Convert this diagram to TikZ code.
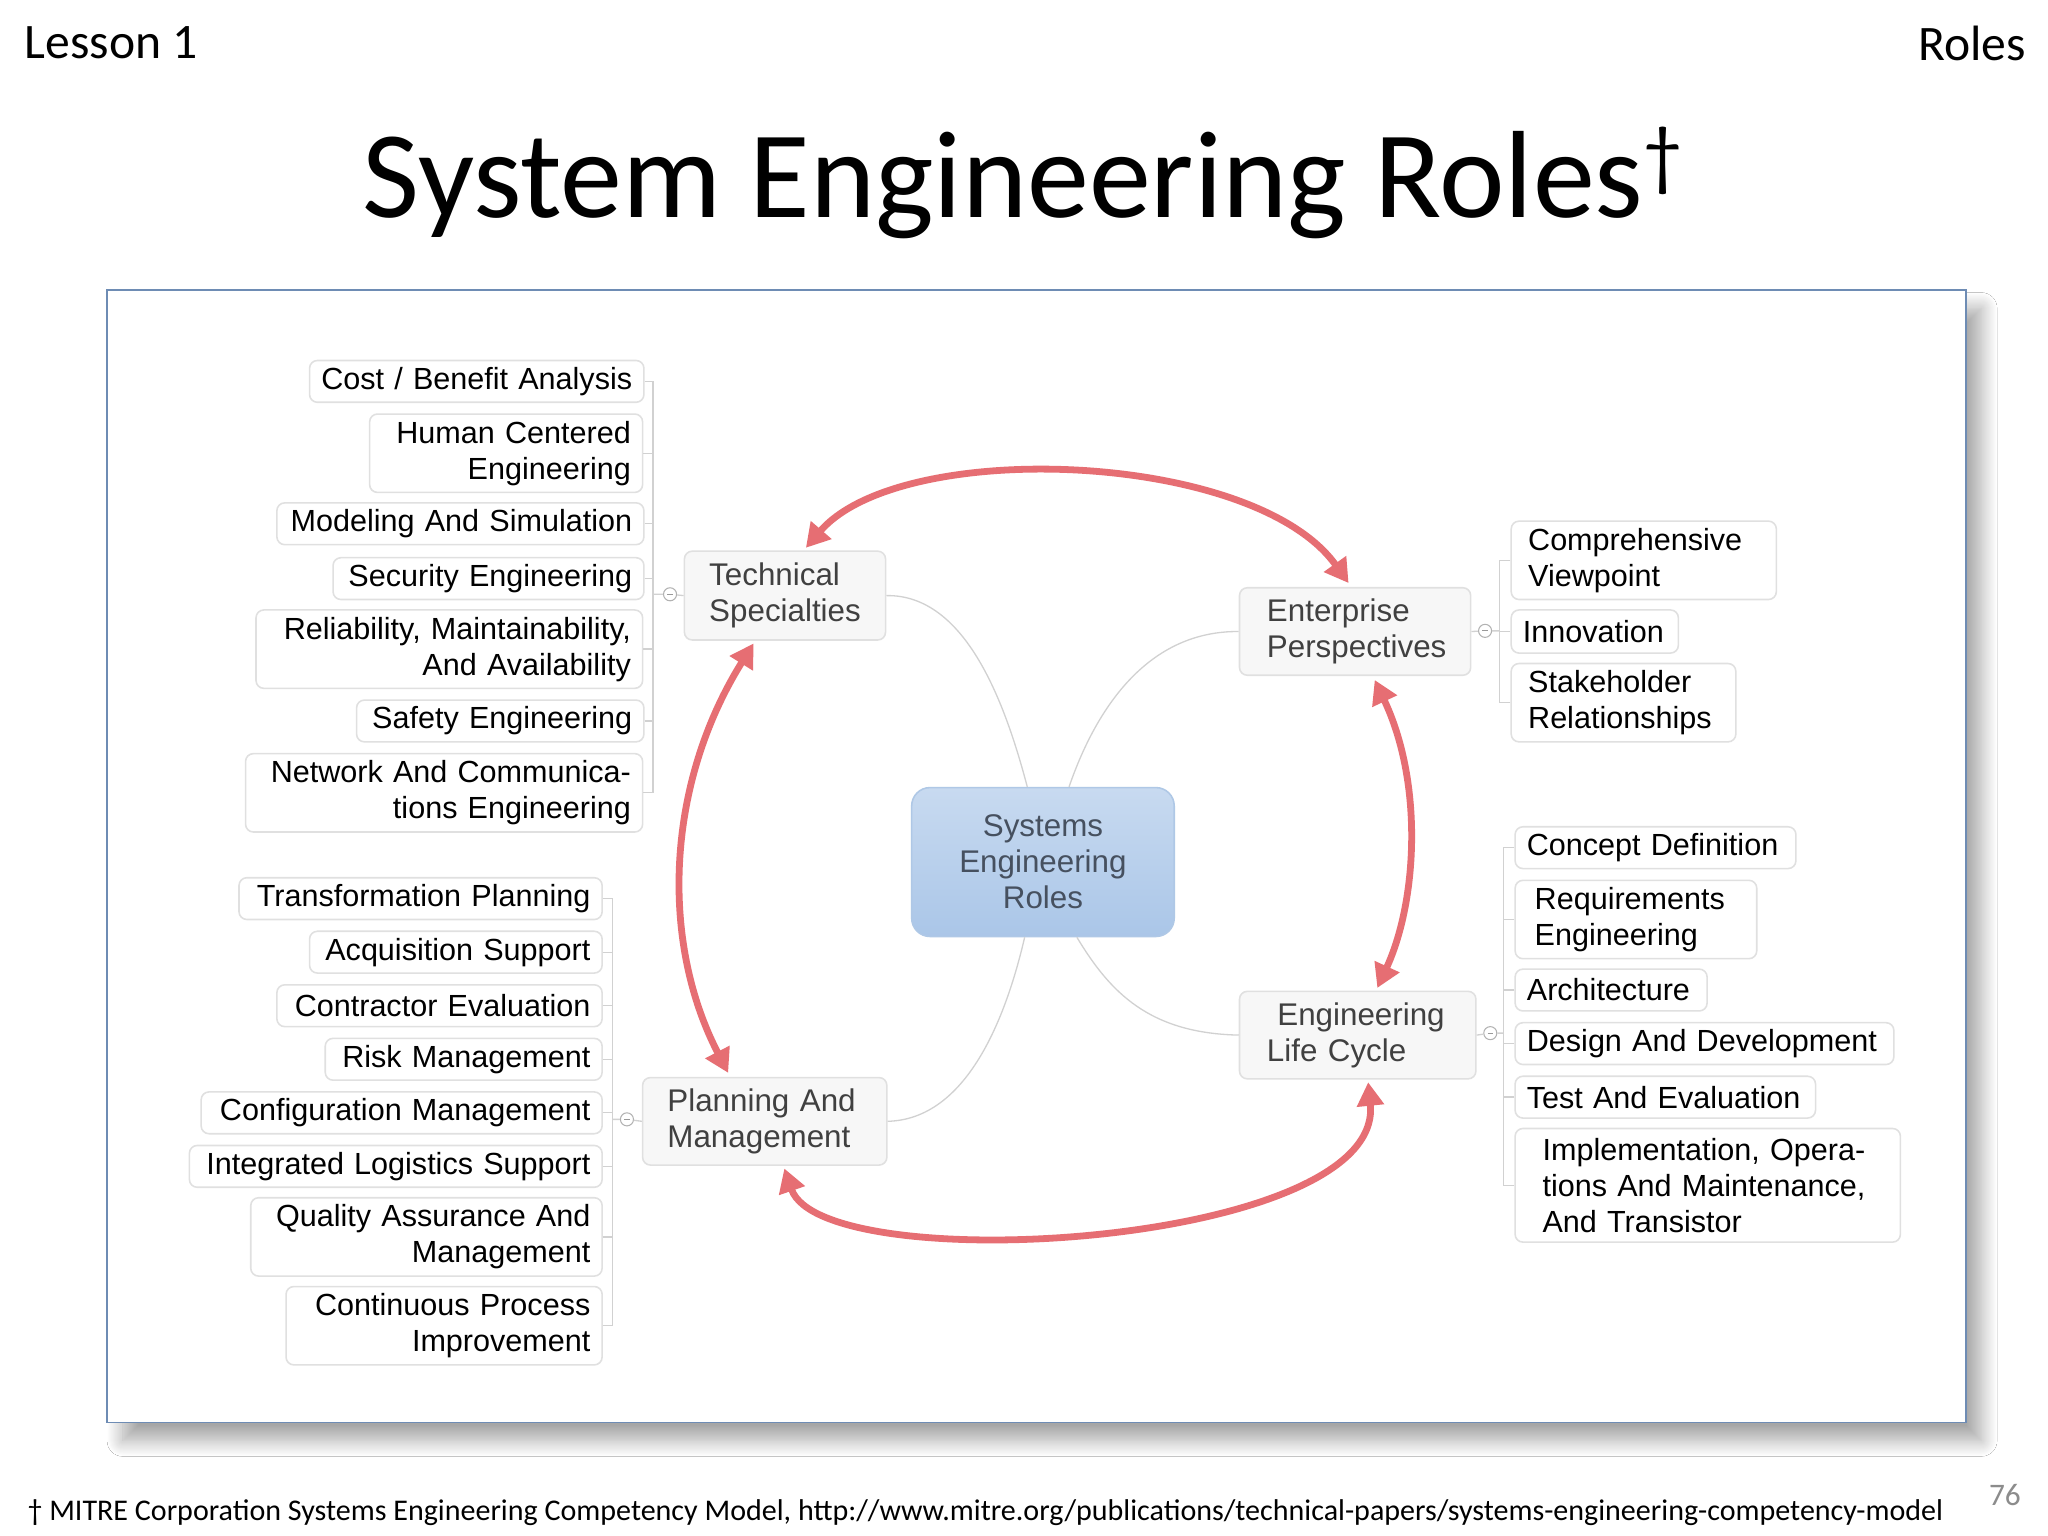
\documentclass[tikz,border=0pt]{standalone}
\usepackage{fontspec}
\setmainfont{Liberation Sans}
\newfontfamily\calfam{Carlito}
\usetikzlibrary{arrows.meta,shadows.blur,calc}
\tikzset{
 box/.style={draw=black!12,line width=0.6pt,rounded corners=3pt,fill=white,inner sep=0pt,font=\fontsize{11.7}{13.8}\selectfont,text=black},
 mid/.style={fill=black!3,text=black!75,font=\fontsize{12}{13.8}\selectfont},
 redarr/.style={draw={rgb,255:red,230;green,110;blue,115},line width=2.6pt,{Triangle[length=9pt,width=10pt]}-{Triangle[length=9pt,width=10pt]}},
 thin/.style={draw=black!18,line width=0.5pt},
 dotc/.style={circle,draw=black!30,fill=white,inner sep=0pt,minimum size=5pt,line width=0.4pt},
}
\newcommand\bx[7][]{%
 \pgfmathsetmacro\bw{(#5-#3)*0.5}\pgfmathsetmacro\bh{(#6-#4)*0.5}\pgfmathsetmacro\tw{\bw-9}%
 \node[box,#1,minimum width=\bw pt,minimum height=\bh pt,text width=\tw pt] (#2) at ({(#3+#5)/2},{(#4+#6)/2}) {#7};}
\begin{document}
\begin{tikzpicture}[x=0.5pt,y=-0.5pt]
\useasboundingbox (0,0) rectangle (1568,1176);
\fill[white] (0,0) rectangle (1568,1176);
\node[anchor=west,font=\calfam\fontsize{19}{21}\selectfont] (l1) at (12,33) {Lesson 1};
\node[anchor=east,font=\calfam\fontsize{19}{21}\selectfont] (ro) at (1558,33) {Roles};
\node[font=\calfam\fontsize{47.5}{50}\selectfont] (title) at (783,140) {System Engineering Roles\raisebox{0.6ex}{\fontsize{30}{30}\selectfont †}};
\node[draw={rgb,255:red,110;green,140;blue,180},line width=0.6pt,fill=white,minimum width=711.5pt,minimum height=433.5pt,inner sep=0pt,blur shadow={shadow xshift=6pt,shadow yshift=-7pt,shadow blur steps=16,shadow blur radius=6pt,shadow opacity=35}] (frame) at (793.5,655.5) {};
\node[anchor=west,font=\calfam\fontsize{11.5}{13}\selectfont] (fn) at (14,1158) {† MITRE Corporation Systems Engineering Competency Model, http://www.mitre.org/publications/technical-papers/systems-engineering-competency-model};
\node[font=\calfam\fontsize{12}{13}\selectfont,text=black!45] (pg) at (1535,1145) {76};

% group 1
\bx[align=right]{a1}{237}{276}{493}{308}{Cost / Benefit Analysis}
\bx[align=right]{a2}{283}{317}{492}{377}{Human Centered\\Engineering}
\bx[align=right]{a3}{212}{385}{493}{417}{Modeling And Simulation}
\bx[align=right]{a4}{255}{427}{493}{459}{Security Engineering}
\bx[align=right]{a5}{196}{467}{492}{527}{Reliability, Maintainability,\\And Availability}
\bx[align=right]{a6}{273}{536}{493}{568}{Safety Engineering}
\bx[align=right]{a7}{188}{577}{492}{637}{Network And Communica-\\tions Engineering}
% group 2
\bx[align=right]{b1}{183}{672}{461}{704}{Transformation Planning}
\bx[align=right]{b2}{237}{713}{461}{745}{Acquisition Support}
\bx[align=right]{b3}{212}{754}{461}{786}{Contractor Evaluation}
\bx[align=right]{b4}{249}{795}{461}{827}{Risk Management}
\bx[align=right]{b5}{154}{836}{461}{868}{Configuration Management}
\bx[align=right]{b6}{145}{877}{461}{909}{Integrated Logistics Support}
\bx[align=right]{b7}{192}{917}{461}{977}{Quality Assurance And\\Management}
\bx[align=right]{b8}{219}{985}{461}{1045}{Continuous Process\\Improvement}
% right groups
\bx[align=left]{c1}{1157}{399}{1360}{459}{\hspace*{2pt}Comprehensive\\\hspace*{2pt}Viewpoint}
\bx[align=left]{c2}{1157}{467}{1285}{500}{Innovation}
\bx[align=left]{c3}{1157}{508}{1329}{568}{\hspace*{2pt}Stakeholder\\\hspace*{2pt}Relationships}
\bx[align=left]{d1}{1160}{633}{1375}{665}{Concept Definition}
\bx[align=left]{d2}{1160}{674}{1345}{734}{\hspace*{3pt}Requirements\\\hspace*{3pt}Engineering}
\bx[align=left]{d3}{1160}{742}{1307}{774}{Architecture}
\bx[align=left]{d4}{1160}{783}{1450}{815}{Design And Development}
\bx[align=left]{d5}{1160}{824}{1390}{856}{Test And Evaluation}
\bx[align=left]{d6}{1160}{864}{1455}{951}{\hspace*{6pt}Implementation, Opera-\\\hspace*{6pt}tions And Maintenance,\\\hspace*{6pt}And Transistor}
% mid nodes
\bx[align=left,mid]{ts}{524}{422}{678}{490}{\hspace*{5pt}Technical\\\hspace*{5pt}Specialties}
\bx[align=left,mid]{ep}{949}{450}{1126}{517}{\hspace*{6pt}Enterprise\\\hspace*{6pt}Perspectives}
\bx[align=left,mid]{pm}{492}{825}{679}{892}{\hspace*{5pt}Planning And\\\hspace*{5pt}Management}
\bx[align=left,mid]{lc}{949}{759}{1130}{826}{\hspace*{10pt}Engineering\\\hspace*{6pt}Life Cycle}
\node[box,align=center,minimum width=100.5pt,minimum height=57pt,text width=95pt,rounded corners=7pt,draw={rgb,255:red,175;green,200;blue,230},top color={rgb,255:red,200;green,218;blue,240},bottom color={rgb,255:red,170;green,198;blue,232},text={rgb,255:red,70;green,80;blue,95},font=\fontsize{12}{13.8}\selectfont] (ser) at (798.5,660) {Systems\\Engineering\\Roles};

% bracket lines
\foreach \n in {a1,a2,a3,a4,a5,a6,a7} \draw[thin] (\n.east) -- (500,0|-\n.east);
\draw[thin] (500,292) -- (500,607);
\node[dotc] (t1) at (513,455) {}; \draw[black!40,line width=0.4pt] (511,455)--(515,455);
\draw[thin] (500,455) -- (t1) -- (ts.west);
\foreach \n in {b1,b2,b3,b4,b5,b6,b7,b8} \draw[thin] (\n.east) -- (469,0|-\n.east);
\draw[thin] (469,688) -- (469,1015);
\node[dotc] (t2) at (480,857) {}; \draw[black!40,line width=0.4pt] (478,857)--(482,857);
\draw[thin] (469,857) -- (t2) -- (pm.west);
\foreach \n in {c1,c2,c3} \draw[thin] (\n.west) -- (1148,0|-\n.west);
\draw[thin] (1148,429) -- (1148,538);
\node[dotc] (t3) at (1137,483) {}; \draw[black!40,line width=0.4pt] (1135,483)--(1139,483);
\draw[thin] (ep.east) -- (t3) -- (1148,483);
\foreach \n in {d1,d2,d3,d4,d5,d6} \draw[thin] (\n.west) -- (1151,0|-\n.west);
\draw[thin] (1151,649) -- (1151,907);
\node[dotc] (t4) at (1141,791) {}; \draw[black!40,line width=0.4pt] (1139,791)--(1143,791);
\draw[thin] (lc.east) -- (t4) -- (1151,791);

% centre connectors
\draw[thin] (ts.east) .. controls (740,455) and (770,540) .. ($(ser.north)+(-12,0)$);
\draw[thin] (ep.west) .. controls (880,483) and (840,540) .. ($(ser.north)+(20,0)$);
\draw[thin] (pm.east) .. controls (740,857) and (770,780) .. ($(ser.south)+(-14,0)$);
\draw[thin] (lc.west) .. controls (880,791) and (850,760) .. ($(ser.south)+(26,0)$);

% red arrows
\coordinate (r1) at ($(ts.north)+(16,-2)$);
\coordinate (r2) at ($(ep.north)+(-5,-3)$);
\coordinate (r3) at ($(ts.south)+(-24,2)$);
\coordinate (r4) at ($(pm.north)+(-28,-3)$);
\coordinate (r5) at ($(ep.south)+(15,3)$);
\coordinate (r6) at ($(lc.north)+(15,-2)$);
\coordinate (r7) at ($(lc.south)+(8,2)$);
\coordinate (r8) at ($(pm.south)+(15,2)$);
\draw[redarr] (r1) .. controls (690,335) and (960,345) .. (r2);
\draw[redarr] (r3) .. controls (510,600) and (505,720) .. (r4);
\draw[redarr] (r5) .. controls (1090,600) and (1085,690) .. (r6);
\draw[redarr] (r7) .. controls (1060,955) and (630,980) .. (r8);
\end{tikzpicture}
\end{document}
